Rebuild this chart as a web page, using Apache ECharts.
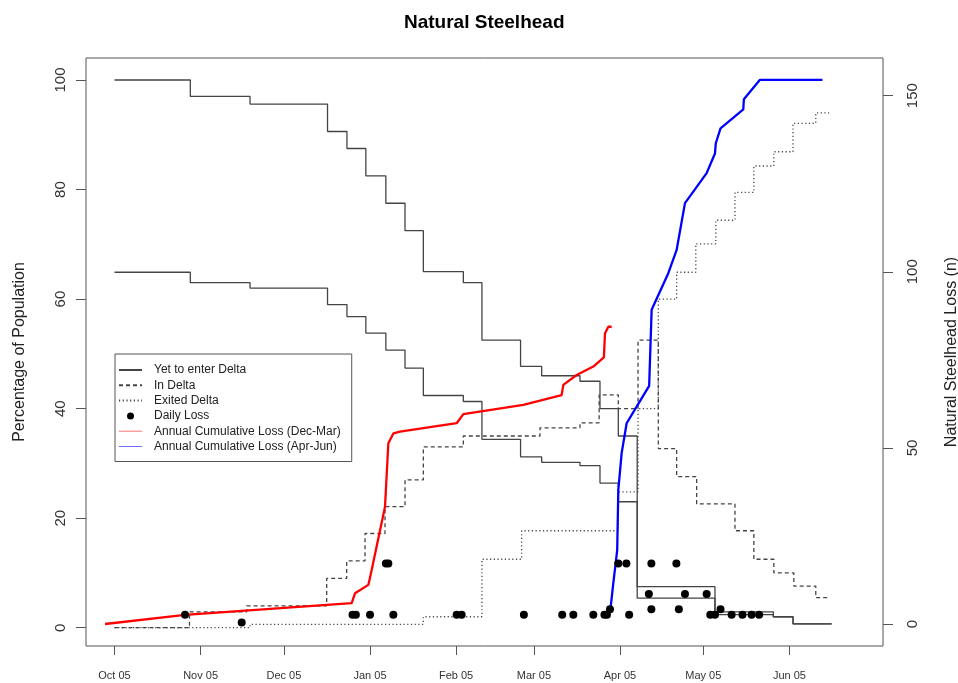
<!DOCTYPE html>
<html>
<head>
<meta charset="utf-8">
<script src="https://cdn.jsdelivr.net/npm/echarts@6/dist/echarts.min.js"></script>
<style>html,body{margin:0;padding:0;background:#fff;}#c{width:958px;height:683px;}</style>
</head>
<body>
<div id="c"></div>
<script>
// x values are days since 1 Oct 2005
const monthTicks = [0, 31, 61, 92, 123, 151, 182, 212, 243];
const monthLabels = ['Oct 05','Nov 05','Dec 05','Jan 05','Feb 05','Mar 05','Apr 05','May 05','Jun 05'];
const pctTicks = [0, 20, 40, 60, 80, 100];
const lossTicks = [0, 50, 100, 150];

// Yet to enter Delta (two step lines share these dates)
const yetDays = [0, 27.3, 48.8, 76.7, 83.7, 90.5, 97.7, 104.6, 111.2, 125.6, 132.3, 146.2, 153.8, 167.6, 174.8, 181.4, 188.2, 216.2, 237.2, 244.3, 258.2];
const yetA = [100, 97.0, 95.6, 90.6, 87.5, 82.5, 77.5, 72.5, 65.0, 63.0, 52.5, 47.7, 46.0, 45.0, 40.0, 35.0, 7.5, 2.9, 2.0, 0.7, 0.7];
const yetB = [64.9, 63.0, 62.0, 59.0, 56.8, 53.8, 50.7, 47.4, 42.4, 41.3, 34.4, 31.2, 30.2, 29.6, 26.4, 23.0, 5.4, 2.4, 2.0, 0.7, 0.7];

// In Delta
const inDays = [0, 27.0, 47.6, 76.4, 83.6, 90.2, 97.4, 104.6, 111.2, 125.6, 153.2, 167.6, 174.5, 181.4, 188.5, 195.8, 202.4, 209.6, 223.4, 230.2, 237.4, 244.6, 252.5, 257.3];
const inVals = [0, 2.9, 4.0, 9.0, 12.2, 17.2, 22.1, 27.0, 33.0, 35.0, 36.5, 37.4, 42.5, 40.0, 52.5, 32.7, 27.6, 22.6, 17.7, 12.5, 10.0, 7.6, 5.5, 5.5];

// Exited Delta
const exDays = [0, 48.8, 111.2, 132.3, 146.6, 181.4, 188.5, 195.8, 202.4, 209.3, 216.5, 223.4, 230.2, 237.4, 244.3, 252.5, 257.3];
const exVals = [0, 0.6, 2.0, 12.5, 17.7, 24.8, 40.0, 60.0, 64.9, 70.1, 74.4, 79.5, 84.3, 86.9, 92.1, 94.0, 94.0];

// Daily loss (n)
const lossDays = [25.4, 45.8, 85.7, 86.9, 92.0, 97.7, 98.6, 100.4, 123.2, 125.0, 147.4, 161.2, 165.2, 172.4, 176.4, 177.3, 178.4, 181.4, 184.3, 185.3, 192.4, 193.3, 193.3, 202.3, 203.2, 205.4, 213.2, 214.5, 216.2, 218.2, 222.2, 226.1, 229.4, 232.1];
const lossVals = [2.6, 0.4, 2.6, 2.6, 2.6, 17.2, 17.2, 2.6, 2.6, 2.6, 2.6, 2.6, 2.6, 2.6, 2.6, 2.6, 4.2, 17.2, 17.2, 2.6, 8.5, 4.2, 17.2, 17.2, 4.2, 8.5, 8.5, 2.6, 2.6, 4.2, 2.6, 2.6, 2.6, 2.6];

// Annual cumulative loss (Dec-Mar)
const decMarDays = [-3.4, 25.4, 85.4, 86.6, 91.4, 92.6, 97.4, 98.6, 100.4, 102.8, 123.2, 125.6, 147.2, 161.0, 161.6, 166.4, 172.4, 176.2, 176.6, 177.8, 179.0];
const decMarVals = [0, 2.6, 5.9, 8.7, 11.1, 15.3, 33.3, 51.3, 54.1, 54.6, 57.0, 59.6, 62.2, 65.0, 67.9, 70.7, 73.1, 75.7, 82.5, 84.4, 84.4];

// Annual cumulative loss (Apr-Jun)
const aprJunDays = [178.6, 179.6, 181.0, 181.4, 182.6, 184.4, 188.0, 192.5, 193.4, 199.4, 202.4, 205.4, 213.2, 216.2, 216.5, 218.2, 226.4, 226.6, 232.4, 254.9];
const aprJunVals = [4.5, 11.6, 21.0, 38.0, 48.5, 57.0, 61.7, 67.6, 89.2, 99.6, 106.2, 119.5, 128.0, 133.6, 136.5, 140.7, 146.1, 149.0, 154.5, 154.5];

const zip = (a, b) => a.map((v, i) => [v, b[i]]);
const FONT = '"Liberation Sans", Arial, sans-serif';
const labelMap = {};
monthTicks.forEach((d, i) => { labelMap[d] = monthLabels[i]; });

const LINE_COL = '#444';
const stepLine = (name, data, type) => ({
  name, type: 'line', data, step: 'end', symbol: 'none', showSymbol: false,
  xAxisIndex: 0, yAxisIndex: 0,
  lineStyle: { color: LINE_COL, width: 1.3, type },
  itemStyle: { color: LINE_COL },
  z: 2
});
const noSym = { color: 'rgba(0,0,0,0)', opacity: 0, borderWidth: 0 };

const chart = echarts.init(document.getElementById('c'), null, { renderer: 'canvas' });
chart.setOption({
  animation: false,
  backgroundColor: '#fff',
  title: {
    text: 'Natural Steelhead', left: 399, top: 8,
    textStyle: { fontFamily: FONT, fontWeight: 'bold', fontSize: 19, color: '#000' }
  },
  grid: { left: 86, right: 75, top: 58, bottom: 37, show: true, borderColor: '#555', borderWidth: 1,
          containLabel: false, outerBoundsMode: 'none' },
  legend: {
    orient: 'vertical', left: 115, top: 354,
    padding: [9, 11, 8, 3], itemGap: 1.3, itemWidth: 23, itemHeight: 7,
    borderColor: '#555', borderWidth: 1, backgroundColor: '#fff',
    textStyle: { fontFamily: FONT, fontSize: 12, color: '#222', lineHeight: 14, padding: [0, 0, 0, 7] },
    data: [
      { name: 'Yet to enter Delta', itemStyle: noSym },
      { name: 'In Delta', itemStyle: noSym },
      { name: 'Exited Delta', itemStyle: noSym },
      { name: 'Daily Loss', icon: 'circle', itemStyle: { color: '#000', opacity: 1 } },
      { name: 'Annual Cumulative Loss (Dec-Mar)', itemStyle: noSym, lineStyle: { width: 1, color: '#ff7070' } },
      { name: 'Annual Cumulative Loss (Apr-Jun)', itemStyle: noSym, lineStyle: { width: 1, color: '#7070ff' } }
    ],
    z: 10
  },
  xAxis: {
    type: 'value', min: -10.26, max: 276.7,
    axisLine: { show: false, onZero: false },
    splitLine: { show: false },
    axisTick: { show: true, length: 9, customValues: monthTicks, lineStyle: { color: '#555' } },
    axisLabel: { customValues: monthTicks, margin: 24, fontFamily: FONT, fontSize: 11, color: '#333',
      formatter: v => labelMap[v] || '' }
  },
  yAxis: [
    {
      type: 'value', position: 'left', min: -3.34, max: 104.02,
      name: 'Percentage of Population', nameLocation: 'middle', nameGap: 58, nameRotate: 90,
      nameTextStyle: { fontFamily: FONT, fontSize: 16, color: '#222' },
      axisLine: { show: false, onZero: false }, splitLine: { show: false },
      axisTick: { show: true, length: 10, customValues: pctTicks, lineStyle: { color: '#555' } },
      axisLabel: { customValues: pctTicks, rotate: 90, margin: 18, fontFamily: FONT, fontSize: 15, color: '#333' }
    },
    {
      type: 'value', position: 'right', min: -6.25, max: 160.7,
      name: 'Natural Steelhead Loss (n)', nameLocation: 'middle', nameGap: 61, nameRotate: 90,
      nameTextStyle: { fontFamily: FONT, fontSize: 16, color: '#222' },
      axisLine: { show: false, onZero: false }, splitLine: { show: false },
      axisTick: { show: true, length: 10, customValues: lossTicks, lineStyle: { color: '#555' } },
      axisLabel: { customValues: lossTicks, rotate: 90, margin: 22, fontFamily: FONT, fontSize: 15, color: '#333' }
    }
  ],
  series: [
    stepLine('Yet to enter Delta', zip(yetDays, yetA), 'solid'),
    stepLine('Yet to enter Delta', zip(yetDays, yetB), 'solid'),
    stepLine('In Delta', zip(inDays, inVals), [4, 3]),
    stepLine('Exited Delta', zip(exDays, exVals), [1.2, 2.5]),
    {
      name: 'Daily Loss', type: 'scatter', yAxisIndex: 1, data: zip(lossDays, lossVals),
      symbol: 'circle', symbolSize: 8, itemStyle: { color: '#000', opacity: 1 }, z: 4
    },
    {
      name: 'Annual Cumulative Loss (Dec-Mar)', type: 'line', yAxisIndex: 1, data: zip(decMarDays, decMarVals),
      symbol: 'none', showSymbol: false, lineStyle: { color: '#ff0000', width: 2.3 }, itemStyle: { color: '#ff0000' }, z: 3
    },
    {
      name: 'Annual Cumulative Loss (Apr-Jun)', type: 'line', yAxisIndex: 1, data: zip(aprJunDays, aprJunVals),
      symbol: 'none', showSymbol: false, lineStyle: { color: '#0000ff', width: 2.3 }, itemStyle: { color: '#0000ff' }, z: 3
    }
  ]
});
</script>
</body>
</html>
